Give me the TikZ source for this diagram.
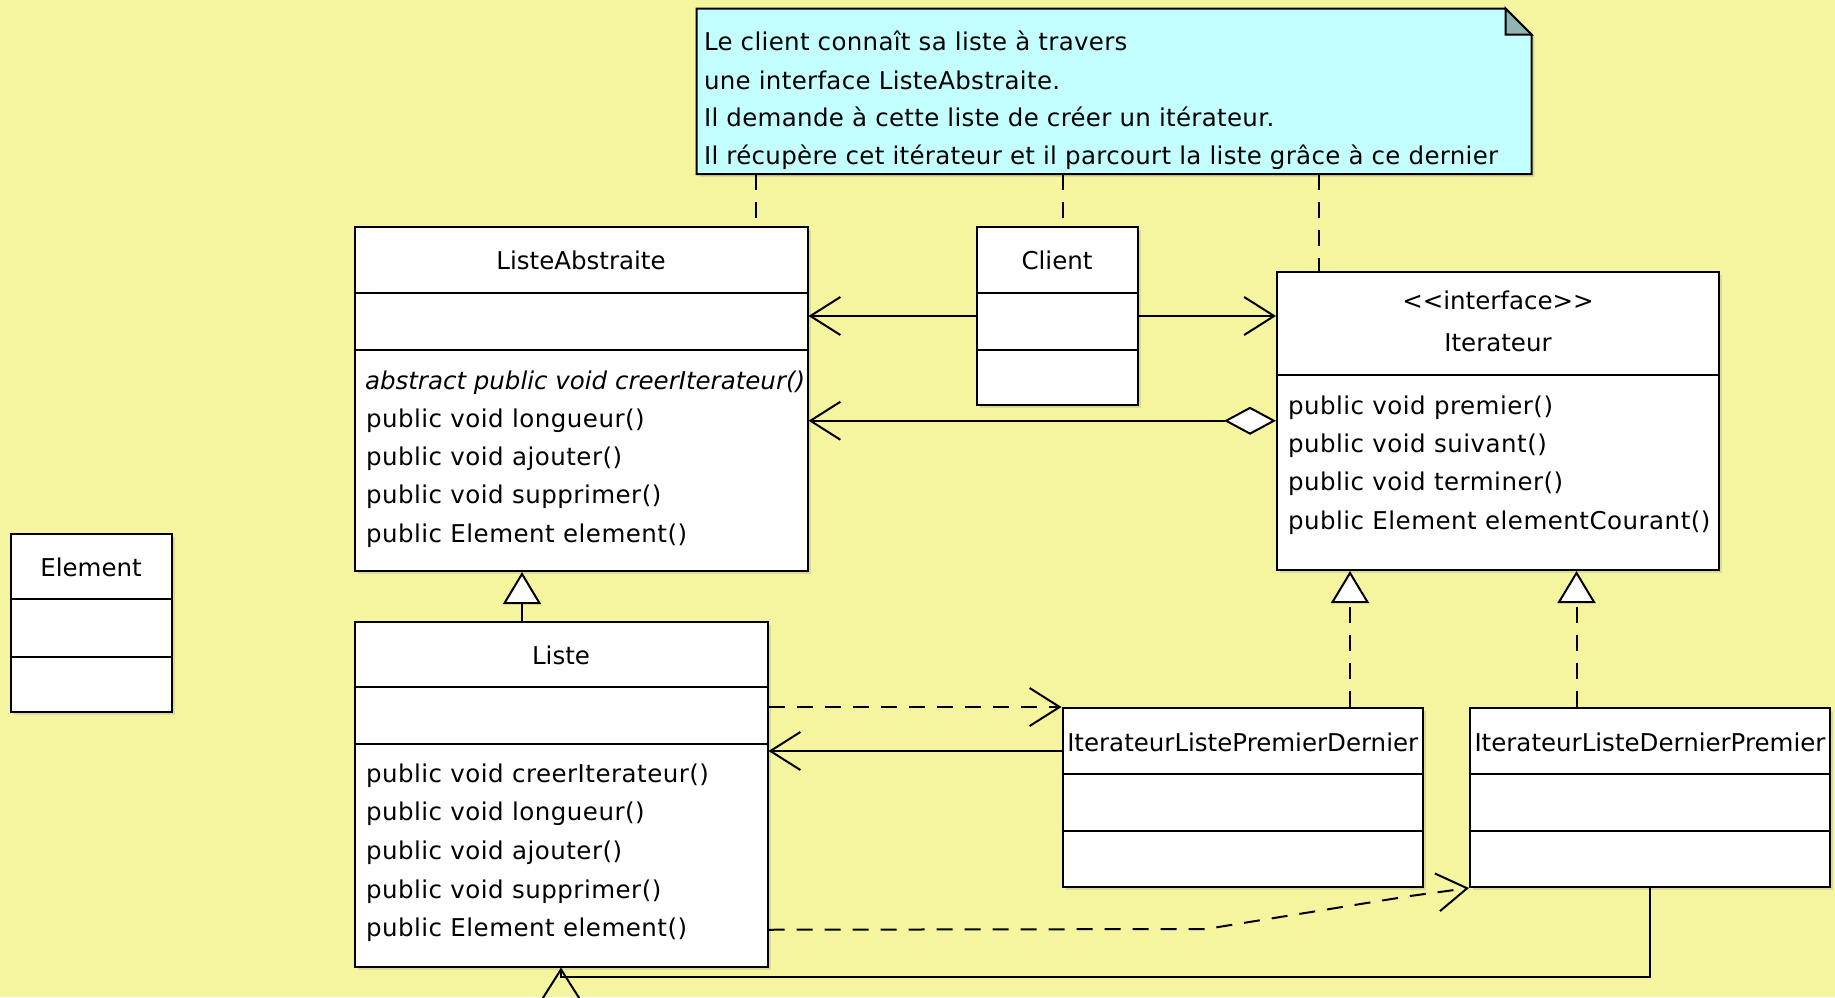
\documentclass[tikz,border=0pt]{standalone}
\usepackage{fontspec}
\setmainfont{DejaVu Sans}
\usetikzlibrary{arrows.meta,calc,shadows,fit}

\definecolor{canvas}{RGB}{245,245,160}
\definecolor{notebg}{RGB}{196,255,255}
\definecolor{noteear}{RGB}{143,181,181}

\begin{document}
\begin{tikzpicture}[x=0.5pt,y=-0.5pt,
  font=\fontsize{12.25}{14}\selectfont,
  line width=1pt,
  classbox/.style={draw=black, line width=1pt, fill=white, inner sep=0pt,
    drop shadow={shadow xshift=1.5pt, shadow yshift=-1.5pt, opacity=.22}},
  divider/.style={draw=black, line width=1pt},
  meth/.style={anchor=base west, inner sep=0pt, font=\fontsize{12.25}{14}\selectfont\addfontfeatures{LetterSpace=2}},
  absmeth/.style={anchor=base west, inner sep=0pt, font=\fontsize{12.25}{14}\selectfont\itshape},
  cname/.style={anchor=base, inner sep=0pt},
  notetext/.style={anchor=base west, inner sep=0pt, font=\fontsize{12.25}{14}\selectfont\addfontfeatures{LetterSpace=1.3}},
  dashline/.style={dash pattern=on 8pt off 6pt},
  assoc/.style={-{Straight Barb[length=15pt,width=19pt]}},
  dep/.style={dashline, -{Straight Barb[length=15pt,width=19pt]}},
  inherit/.style={-{Triangle[fill=white,length=16pt,width=19pt]}},
  realize/.style={dashline, -{Triangle[fill=white,length=16pt,width=19pt]}},
  aggreg/.style={{Diamond[fill=white,length=26pt,width=14pt]}-{Straight Barb[length=15pt,width=19pt]}},
  notelink/.style={dashline}]

% canvas
\path[use as bounding box, fill=canvas] (0,0) rectangle (1835,997);
\clip (0,0) rectangle (1835,997);

% ---------- note ----------
\node[fit={(697.5,9.5) (1530.5,173)}, inner sep=0pt] (note) {};
\draw[fill=notebg, drop shadow={shadow xshift=1.5pt, shadow yshift=-1.5pt, opacity=.22}]
  (note.north west) -- ($(note.north east)+(-26,0)$) -- ($(note.north east)+(0,26)$)
  -- (note.south east) -- (note.south west) -- cycle;
\draw[fill=noteear] ($(note.north east)+(-26,0)$) -- ($(note.north east)+(-26,26)$)
  -- ($(note.north east)+(0,26)$) -- cycle;
\node[notetext] (nt1) at (703,50)  {Le client connaît sa liste à travers};
\node[notetext] (nt2) at (703,89)  {une interface ListeAbstraite.};
\node[notetext] (nt3) at (703,126) {Il demande à cette liste de créer un itérateur.};
\node[notetext] (nt4) at (703,164) {Il récupère cet itérateur et il parcourt la liste grâce à ce dernier};

% ---------- ListeAbstraite ----------
\node[classbox, fit={(354.5,227) (807.5,571)}] (la) {};
\draw[divider] (la.west |- 0,292.5) -- (la.east |- 0,292.5);
\draw[divider] (la.west |- 0,350) -- (la.east |- 0,350);
\node[cname] (la-name) at (581,269) {ListeAbstraite};
\node[absmeth] (la-m1) at (364,389) {abstract public void creerIterateur()};
\node[meth] (la-m2) at (365,427)   {public void longueur()};
\node[meth] (la-m3) at (365,465)   {public void ajouter()};
\node[meth] (la-m4) at (365,503.5) {public void supprimer()};
\node[meth] (la-m5) at (365,542.5) {public Element element()};

% ---------- Client ----------
\node[classbox, fit={(976.5,227) (1137.5,405)}] (client) {};
\draw[divider] (client.west |- 0,292.5) -- (client.east |- 0,292.5);
\draw[divider] (client.west |- 0,350) -- (client.east |- 0,350);
\node[cname] (client-name) at (1057,269) {Client};

% ---------- Iterateur ----------
\node[classbox, fit={(1277,271.5) (1719,570)}] (iter) {};
\draw[divider] (iter.west |- 0,374.5) -- (iter.east |- 0,374.5);
\node[cname] (iter-st) at (1498,309.5) {<\kern0pt<interface>\kern0pt>};
\node[cname] (iter-name) at (1498,351) {Iterateur};
\node[meth] (it-m1) at (1287,414)   {public void premier()};
\node[meth] (it-m2) at (1287,452.5) {public void suivant()};
\node[meth] (it-m3) at (1287,490.5) {public void terminer()};
\node[meth] (it-m4) at (1287,529)   {public Element elementCourant()};

% ---------- Element ----------
\node[classbox, fit={(10.5,533.5) (172,711.5)}] (elem) {};
\draw[divider] (elem.west |- 0,599) -- (elem.east |- 0,599);
\draw[divider] (elem.west |- 0,656.5) -- (elem.east |- 0,656.5);
\node[cname] (elem-name) at (91,576) {Element};

% ---------- Liste ----------
\node[classbox, fit={(354.5,621.5) (767.5,966.5)}] (liste) {};
\draw[divider] (liste.west |- 0,687) -- (liste.east |- 0,687);
\draw[divider] (liste.west |- 0,744) -- (liste.east |- 0,744);
\node[cname] (liste-name) at (561,664) {Liste};
\node[meth] (li-m1) at (365,782)   {public void creerIterateur()};
\node[meth] (li-m2) at (365,820.5) {public void longueur()};
\node[meth] (li-m3) at (365,859.5) {public void ajouter()};
\node[meth] (li-m4) at (365,898)   {public void supprimer()};
\node[meth] (li-m5) at (365,936.5) {public Element element()};

% ---------- IterateurListePremierDernier ----------
\node[classbox, fit={(1062.5,708) (1423,887)}] (ilpd) {};
\draw[divider] (ilpd.west |- 0,773.5) -- (ilpd.east |- 0,773.5);
\draw[divider] (ilpd.west |- 0,831) -- (ilpd.east |- 0,831);
\node[cname] (ilpd-name) at (1242.75,751) {IterateurListePremierDernier};

% ---------- IterateurListeDernierPremier ----------
\node[classbox, fit={(1470,708) (1830,887)}] (ildp) {};
\draw[divider] (ildp.west |- 0,773.5) -- (ildp.east |- 0,773.5);
\draw[divider] (ildp.west |- 0,831) -- (ildp.east |- 0,831);
\node[cname] (ildp-name) at (1650,751) {IterateurListeDernierPremier};

% ---------- note links ----------
\coordinate (n1) at ($(note.south west)+(59.5,0)$);
\coordinate (n2) at ($(client.north)+(5.5,0)$);
\coordinate (n3) at ($(iter.north west)+(43,0)$);
\draw[notelink] (n1) -- (n1 |- la.north);
\draw[notelink] (n2 |- note.south) -- (n2);
\draw[notelink] (n3 |- note.south) -- (n3);

% ---------- associations ----------
\draw[assoc] (client.west) -- (client.west -| la.east);
\draw[assoc] (client.east) -- (client.east -| iter.west);
\draw[aggreg] (iter.west) -- (iter.west -| la.east);

% generalisation Liste -> ListeAbstraite
\coordinate (g1) at ($(liste.north west)+(168.5,0)$);
\draw[inherit] (g1) -- (g1 |- la.south);

% realisations of Iterateur
\coordinate (r1) at ($(ilpd.north east)+(-74,0)$);
\coordinate (r2) at ($(ildp.north west)+(107.5,0)$);
\draw[realize] (r1) -- (r1 |- iter.south);
\draw[realize] (r2) -- (r2 |- iter.south);

% Liste <-> IterateurListePremierDernier
\draw[dep] (liste.east |- ilpd.north west) -- (ilpd.north west);
\coordinate (p1) at ($(ilpd.north west)+(0,44)$);
\draw[assoc] (p1) -- (p1 -| liste.east);

% Liste <-> IterateurListeDernierPremier
\coordinate (b1) at (1206,929);
\coordinate (b2) at (1410,896);
\draw[dep] (li-m5 -| liste.east) -- (b1) -- (b2) -- (ildp.south west);
\draw[assoc] (ildp.south) |- ($(liste.south)+(0,9.5)$) -- (liste.south);

\end{tikzpicture}
\end{document}
